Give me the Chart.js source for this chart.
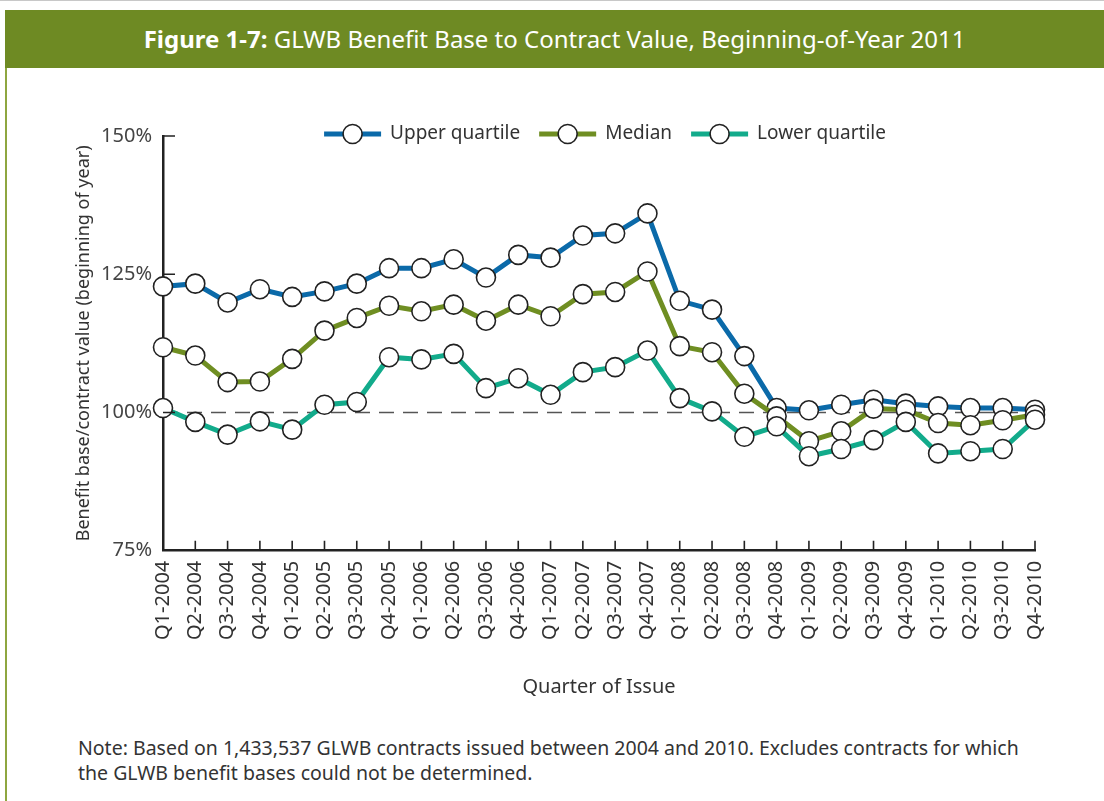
<!DOCTYPE html>
<html>
<head>
<meta charset="utf-8">
<script src="https://cdn.jsdelivr.net/npm/chart.js@4.4.1/dist/chart.umd.min.js"></script>
<style>
body { margin: 0; background: #fff; }
#page { position: relative; width: 1104px; height: 801px; overflow: hidden; background: #fff; }
#topline { position: absolute; left: 0; top: 0; width: 1104px; height: 1px; background: #c8c8c8; }
#header { position: absolute; left: 5px; top: 10px; width: 1099px; height: 58px; background: #6e8a23;
  color: #fff; font-family: 'Noto Sans', sans-serif; font-size: 24px; line-height: 58px; text-align: center; }
#header b { font-weight: bold; }
#leftline { position: absolute; left: 5px; top: 68px; width: 2px; height: 733px; background: #8ea640; }
#chart { position: absolute; left: 0; top: 0; }
#note { position: absolute; left: 78px; top: 735px; width: 962px; font-family: 'Noto Sans', sans-serif;
  font-size: 19.5px; line-height: 25px; color: #333; }
</style>
</head>
<body>
<div id="page">
  <div id="topline"></div>
  <div id="header"><b>Figure 1-7:</b> GLWB Benefit Base to Contract Value, Beginning-of-Year 2011</div>
  <div id="leftline"></div>
  <canvas id="chart" width="1104" height="712"></canvas>
  <div id="note">Note: Based on 1,433,537 GLWB contracts issued between 2004 and 2010. Excludes contracts for which the GLWB benefit bases could not be determined.</div>
</div>
<script>
const quarters = [
    'Q1-2004', 'Q2-2004', 'Q3-2004', 'Q4-2004',
    'Q1-2005', 'Q2-2005', 'Q3-2005', 'Q4-2005',
    'Q1-2006', 'Q2-2006', 'Q3-2006', 'Q4-2006',
    'Q1-2007', 'Q2-2007', 'Q3-2007', 'Q4-2007',
    'Q1-2008', 'Q2-2008', 'Q3-2008', 'Q4-2008',
    'Q1-2009', 'Q2-2009', 'Q3-2009', 'Q4-2009',
    'Q1-2010', 'Q2-2010', 'Q3-2010', 'Q4-2010'
];
const upperQuartile = [
    122.8, 123.3, 119.9, 122.3,
    120.9, 121.9, 123.3, 126.1,
    126.1, 127.7, 124.4, 128.5,
    128.0, 132.0, 132.4, 136.0,
    120.2, 118.6, 110.2, 100.8,
    100.4, 101.4, 102.3, 101.6,
    101.1, 100.8, 100.8, 100.5
];
const median = [
    111.8, 110.3, 105.5, 105.6,
    109.7, 114.8, 117.1, 119.3,
    118.3, 119.5, 116.6, 119.5,
    117.4, 121.4, 121.8, 125.5,
    112.0, 110.9, 103.4, 99.3,
    94.8, 96.6, 100.7, 100.5,
    98.1, 97.7, 98.6, 99.6
];
const lowerQuartile = [
    100.8, 98.3, 96.0, 98.4,
    96.9, 101.4, 101.9, 110.0,
    109.6, 110.6, 104.4, 106.2,
    103.2, 107.3, 108.2, 111.2,
    102.6, 100.2, 95.6, 97.5,
    92.1, 93.4, 95.0, 98.3,
    92.6, 93.0, 93.4, 98.7
];
const seriesNames = ['Upper quartile', 'Median', 'Lower quartile'];
const seriesColors = ['#0b6aa9', '#6f8e22', '#12ab8b'];
const yMin = 75, yMax = 150, yStep = 25;
const breakEven = 100;

const FONT = "'Noto Sans', sans-serif";

const makeSet = (label, values, color, order) => ({
    label: label,
    data: values,
    borderColor: color,
    backgroundColor: color,
    borderWidth: 5,
    tension: 0,
    pointRadius: 9.5,
    pointBorderWidth: 1.6,
    pointBorderColor: '#222',
    pointBackgroundColor: '#fff',
    order: order
});

// dashed 100% line, inward tick marks, and the line+circle legend
const decor = {
    id: 'decor',
    beforeDatasetsDraw(chart) {
        const ctx = chart.ctx;
        const area = chart.chartArea;
        const y = chart.scales.y.getPixelForValue(breakEven);
        ctx.save();
        ctx.strokeStyle = '#555';
        ctx.lineWidth = 1.6;
        ctx.setLineDash([15, 9]);
        ctx.beginPath();
        ctx.moveTo(area.left, y);
        ctx.lineTo(area.right, y);
        ctx.stroke();
        ctx.restore();
    },
    afterDraw(chart) {
        const ctx = chart.ctx;
        const area = chart.chartArea;
        const xs = chart.scales.x, ys = chart.scales.y;
        ctx.save();
        ctx.strokeStyle = '#222';
        ctx.lineWidth = 1.6;
        ctx.beginPath();
        ys.ticks.forEach(t => {
            if (t.value === yMin) return;
            const y = ys.getPixelForValue(t.value);
            ctx.moveTo(area.left, y);
            ctx.lineTo(area.left + 12, y);
        });
        quarters.forEach((q, i) => {
            const x = xs.getPixelForValue(i);
            ctx.moveTo(x, area.bottom);
            ctx.lineTo(x, area.bottom - 10);
        });
        ctx.stroke();

        // legend
        ctx.font = '19px ' + FONT;
        const lineLen = 57, gapText = 9, gapItem = 19;
        const widths = seriesNames.map(n => ctx.measureText(n).width);
        const total = widths.reduce((a, w) => a + lineLen + gapText + w, 0) + gapItem * (seriesNames.length - 1);
        let x = (area.left + area.right) / 2 + 6 - total / 2;
        const y = area.top - 2;
        seriesNames.forEach((name, i) => {
            ctx.strokeStyle = seriesColors[i];
            ctx.lineWidth = 5;
            ctx.beginPath();
            ctx.moveTo(x, y);
            ctx.lineTo(x + lineLen, y);
            ctx.stroke();
            ctx.beginPath();
            ctx.arc(x + lineLen / 2, y, 9.5, 0, Math.PI * 2);
            ctx.fillStyle = '#fff';
            ctx.fill();
            ctx.strokeStyle = '#222';
            ctx.lineWidth = 1.6;
            ctx.stroke();
            ctx.fillStyle = '#333';
            ctx.textBaseline = 'middle';
            ctx.textAlign = 'left';
            ctx.fillText(name, x + lineLen + gapText, y);
            x += lineLen + gapText + widths[i] + gapItem;
        });
        ctx.restore();
    }
};

const ctx = document.getElementById('chart').getContext('2d');
const myChart = new Chart(ctx, {
    type: 'line',
    data: {
        labels: quarters,
        datasets: [
            makeSet(seriesNames[0], upperQuartile, seriesColors[0], 2),
            makeSet(seriesNames[1], median, seriesColors[1], 1),
            makeSet(seriesNames[2], lowerQuartile, seriesColors[2], 0)
        ]
    },
    options: {
        responsive: false,
        animation: false,
        layout: { padding: { top: 136, right: 69, bottom: 0, left: 0 } },
        plugins: { legend: { display: false }, tooltip: { enabled: false } },
        scales: {
            x: {
                offset: false,
                grid: { display: true, drawOnChartArea: false, drawTicks: false },
                border: { color: '#222', width: 2.5 },
                ticks: {
                    autoSkip: false, maxRotation: 90, minRotation: 90,
                    color: '#333', padding: 10,
                    font: { family: FONT, size: 20 }
                },
                title: {
                    display: true, text: 'Quarter of Issue', color: '#333',
                    font: { family: FONT, size: 20 },
                    padding: { top: 25, bottom: 13 }
                }
            },
            y: {
                min: yMin, max: yMax,
                grid: { display: true, drawOnChartArea: false, drawTicks: false },
                border: { color: '#222', width: 2.5 },
                ticks: {
                    stepSize: yStep, color: '#444', padding: 11,
                    font: { family: FONT, size: 20 },
                    callback: v => v + '%'
                },
                title: {
                    display: true, text: 'Benefit base/contract value (beginning of year)', color: '#333',
                    font: { family: FONT, size: 18 },
                    padding: { top: 73, bottom: 0 }
                },
                afterFit: scale => { scale.width = 163; }
            }
        }
    },
    plugins: [decor]
});
</script>
</body>
</html>
